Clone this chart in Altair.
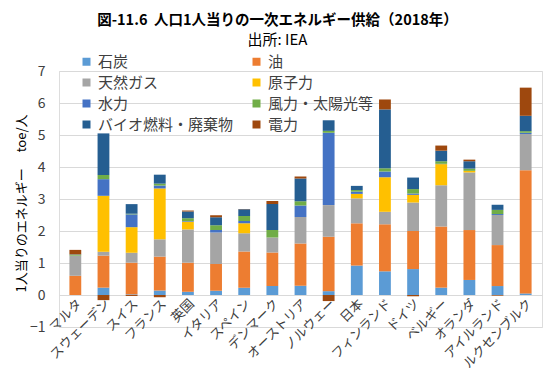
import altair as alt
import pandas as pd

countries = ["マルタ", "スウェーデン", "スイス", "フランス", "英国", "イタリア", "スペイン",
             "デンマーク", "オーストリア", "ノルウェー", "日本", "フィンランド", "ドイツ",
             "ベルギー", "オランダ", "アイルランド", "ルクセンブルク"]
sources = ["石炭", "油", "天然ガス", "原子力", "水力", "風力・太陽光等", "バイオ燃料・廃棄物", "電力"]
colors = ["#5B9BD5", "#ED7D31", "#A5A5A5", "#FFC000", "#4472C4", "#70AD47", "#255E91", "#9E480E"]

coal    = [0.00, 0.23, 0.02, 0.14, 0.10, 0.13, 0.23, 0.28, 0.29, 0.12, 0.92, 0.74, 0.81, 0.23, 0.47, 0.28, 0.05]
oil     = [0.60, 1.00, 0.99, 1.06, 0.91, 0.84, 1.13, 1.05, 1.32, 1.70, 1.32, 1.47, 1.19, 1.91, 1.56, 1.28, 3.85]
gas     = [0.63, 0.12, 0.31, 0.54, 1.04, 0.98, 0.57, 0.47, 0.83, 0.99, 0.78, 0.39, 0.89, 1.29, 1.80, 0.94, 1.13]
nuclear = [0.00, 1.75, 0.80, 1.59, 0.24, 0.00, 0.31, 0.00, 0.00, 0.00, 0.14, 1.08, 0.24, 0.66, 0.05, 0.00, 0.00]
hydro   = [0.00, 0.52, 0.40, 0.09, 0.02, 0.08, 0.07, 0.00, 0.36, 2.26, 0.07, 0.18, 0.04, 0.01, 0.00, 0.03, 0.04]
wind    = [0.03, 0.13, 0.02, 0.06, 0.09, 0.15, 0.16, 0.23, 0.13, 0.06, 0.05, 0.10, 0.14, 0.08, 0.07, 0.13, 0.05]
bio     = [0.01, 1.30, 0.30, 0.28, 0.21, 0.25, 0.21, 0.81, 0.71, 0.33, 0.13, 1.84, 0.36, 0.33, 0.23, 0.16, 0.48]
elec    = [0.14, -0.16, -0.03, -0.07, 0.03, 0.06, 0.01, 0.10, 0.06, -0.19, 0.00, 0.31, -0.04, 0.16, 0.05, -0.02, 0.88]

series = [coal, oil, gas, nuclear, hydro, wind, bio, elec]
rows = []
for si, (s, vals) in enumerate(zip(sources, series)):
    for c, v in zip(countries, vals):
        rows.append({"country": c, "source": s, "idx": si, "value": v})
df = pd.DataFrame(rows)

# legend is laid out column by column: order entries so rows read 石炭/油, 天然ガス/原子力, ...
legend_order = [0, 2, 4, 6, 1, 3, 5, 7]
legend_domain = [sources[i] for i in legend_order]
legend_range = [colors[i] for i in legend_order]

FONT = "Noto Sans CJK JP"
TXT = "#404040"

chart = alt.Chart(df).mark_bar().encode(
    x=alt.X("country:N", sort=countries,
            scale=alt.Scale(paddingInner=0.58, paddingOuter=0.37),
            axis=alt.Axis(title=None, labelAngle=-45, offset=-32, domain=False, ticks=False,
                          grid=False, labelFontSize=13, labelPadding=2, labelColor=TXT,
                          labelFont=FONT)),
    y=alt.Y("value:Q", stack="zero",
            scale=alt.Scale(domain=[-1, 7], nice=False, zero=False),
            axis=alt.Axis(values=list(range(-1, 8)), title="1人当りのエネルギー\u3000 toe/人",
                          domain=False, ticks=False, grid=True, gridColor="#D9D9D9",
                          labelFontSize=14, labelPadding=14, labelColor=TXT, labelFont=FONT,
                          titleFont=FONT, titleFontSize=13, titleFontWeight="normal",
                          titleColor="#000000", titleX=-38, titleY=132,
                          titleAlign="center", titleBaseline="middle")),
    color=alt.Color("source:N", scale=alt.Scale(domain=legend_domain, range=legend_range),
                    legend=alt.Legend(title=None, orient="none", legendX=20, legendY=-17,
                                      columns=2, columnPadding=15, rowPadding=5,
                                      symbolType="square", symbolSize=64, symbolStrokeWidth=0,
                                      labelFontSize=15, labelFont=FONT, labelColor=TXT,
                                      labelLimit=220, padding=0)),
    order=alt.Order("idx:Q", sort="ascending"),
).properties(
    width=483, height=256,
    padding={"left": 51, "top": 63, "right": 1, "bottom": 49},
    autosize=alt.AutoSizeParams(type="none"),
    title=alt.TitleParams(text="図-11.6\u00a0\u00a0人口1人当りの一次エネルギー供給（2018年）",
                          subtitle="出所: IEA", font=FONT, subtitleFont=FONT,
                          fontSize=14.5, fontWeight="bold", color="#000000",
                          subtitleFontSize=15, subtitleColor="#000000",
                          anchor="middle", dx=-23, dy=5, offset=10, subtitlePadding=5),
).configure_view(stroke=None).configure(background="white")

chart.save("out.html", embed_options={"renderer": "svg", "actions": False})
